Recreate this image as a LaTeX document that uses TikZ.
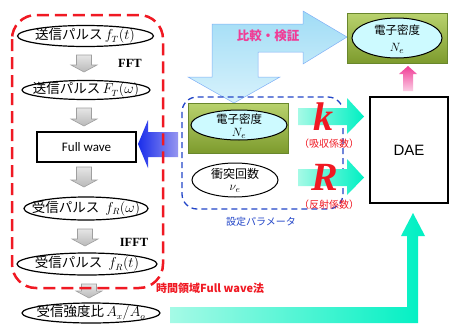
\documentclass[tikz,border=0pt]{standalone}
\usepackage{fontspec}
\newfontfamily\jp{Noto Sans CJK JP}
\newfontfamily\carl{Carlito}
\newfontfamily\ars{Liberation Sans}
\newfontfamily\tms{Liberation Serif}
\usetikzlibrary{shapes.geometric}
\definecolor{myred}{RGB}{240,25,35}
\definecolor{myblue}{RGB}{35,70,200}
\definecolor{mypink}{RGB}{240,60,150}
\definecolor{cyanS}{RGB}{0,240,195}
\definecolor{cyanL}{RGB}{165,250,230}
\definecolor{skyb}{RGB}{160,220,245}
\definecolor{skyl}{RGB}{215,242,252}
\definecolor{grnT}{RGB}{185,210,110}
\definecolor{grnB}{RGB}{125,155,45}
\definecolor{grnD}{RGB}{105,135,45}
\definecolor{icecyan}{RGB}{205,250,255}
\newcommand\grayarr[3]{%
  \shade[top color=gray!20,bottom color=gray!55,draw=gray!75,line width=0.6pt]
  (#1-7.5,#2) -- (#1+7.5,#2) -- (#1+7.5,#3-7) -- (#1+13,#3-7) -- (#1,#3)
  -- (#1-13,#3-7) -- (#1-7.5,#3-7) -- cycle;}
\tikzset{
  ellb/.style={draw=black,line width=1.2pt},
  txt/.style={inner sep=0pt,font=\jp\fontsize{13.5}{15}\selectfont},
  grnbox/.style={top color=grnT,bottom color=grnB,draw=grnD,line width=0.6pt},
  mth/.style={inner sep=0pt,font=\fontsize{12.5}{13}\selectfont},
  bigl/.style={text=myred,font=\tms\bfseries\itshape\fontsize{40}{40}\selectfont,inner sep=0pt,text depth=0pt},
  redl/.style={text=myred,font=\jp\fontsize{10}{11}\selectfont,inner sep=0pt},
  fftl/.style={font=\tms\bfseries\fontsize{12.5}{13}\selectfont,inner sep=0pt},
}
\begin{document}
\begin{tikzpicture}[x=1pt,y=-1pt]
\useasboundingbox (0,0) rectangle (458,327);
\fill[white] (0,0) rectangle (458,327);

% big L arrow comparison
\shade[top color=skyb,bottom color=skyl,draw=skyb!80!blue,line width=0.5pt]
 (212,24) -- (303,24) -- (303,11) -- (347,37) -- (303,64) -- (303,52) -- (258,52)
 -- (258,77) -- (280,77) -- (234,103) -- (188,77) -- (212,77) -- cycle;
\node[font=\jp\bfseries\fontsize{12.5}{14}\selectfont,text=mypink] (cmp) at (268,36) {比較・検証};

% top right green box
\shade[grnbox] (347,13) rectangle (447,63);
\draw[ellb,fill=icecyan,line width=1pt] (397,38) ellipse [x radius=45, y radius=20];
\node[inner sep=0pt,font=\jp\fontsize{11.5}{13}\selectfont] (ne1) at (397,30) {電子密度};
\node[mth] (ne1b) at (397,48) {$N_e$};

% pink arrow
\shade[top color=mypink,bottom color=mypink!25,draw=none]
 (403,91) -- (403,74) -- (399,74) -- (408,66) -- (417,74) -- (413,74) -- (413,91) -- cycle;

% DAE
\node[draw=black,line width=1.2pt,minimum width=78pt,minimum height=106pt,inner sep=0pt,font=\ars\fontsize{15}{16}\selectfont] (dae) at (409,150) {DAE};

% blue dashed params
\draw[myblue,line width=1.3pt,dash pattern=on 6pt off 4pt,rounded corners=15pt] (182,97) rectangle (343,209);
\node[text=myblue,font=\jp\fontsize{10}{11}\selectfont] (set) at (261,222) {設定パラメータ};

% middle green box
\shade[grnbox] (188,103) rectangle (288,153);
\draw[ellb,fill=icecyan,line width=1pt] (239,125) ellipse [x radius=48, y radius=15];
\node[inner sep=0pt,font=\jp\fontsize{11.5}{13}\selectfont] (ne2) at (239,119) {電子密度};
\node[mth] (ne2b) at (239,133) {$N_e$};

% collision
\draw[ellb,fill=white,line width=1pt] (235,180) ellipse [x radius=43, y radius=17];
\node[inner sep=0pt,font=\jp\fontsize{12}{13}\selectfont] (nu) at (235,174) {衝突回数};
\node[mth] (nub) at (235,189) {$\nu_e$};

% k, R arrows
\shade[left color=cyanL,right color=cyanS]
 (298,108) -- (347,108) -- (347,98) -- (364,116.5) -- (347,134) -- (347,125) -- (298,125) -- cycle;
\shade[left color=cyanL,right color=cyanS]
 (298,169) -- (347,169) -- (347,159) -- (364,177.5) -- (347,195) -- (347,186) -- (298,186) -- cycle;
\node[bigl] (k) at (323,117) {k};
\node[redl] (kl) at (329,144) {（吸収係数）};
\node[bigl] (R) at (325,177) {R};
\node[redl] (Rl) at (329,205) {（反射係数）};

% big cyan L arrow to DAE
\shade[left color=cyanL,right color=cyanS]
 (170,307) -- (407,307) -- (407,236) -- (401,236) -- (413,213) -- (425,236) -- (418,236)
 -- (418,323) -- (170,323) -- cycle;

% blue arrow to full wave
\shade[left color={rgb,255:red,25;green,45;blue,235},right color={rgb,255:red,150;green,150;blue,240}]
 (178,132) -- (148,132) -- (148,120) -- (138,144) -- (148,168) -- (148,157) -- (178,157) -- cycle;

% left column
\node[txt] (e1t) at (85,36) {送信パルス\,$f_T(t)$};
\draw[ellb] (85.5,36) ellipse [x radius=68, y radius=10.5];
\grayarr{84}{55}{72}
\node[fftl] (fft) at (130,63) {FFT};
\node[txt] (e2t) at (86,90) {送信パルス\,$F_T(\omega)$};
\draw[ellb] (86,90) ellipse [x radius=64, y radius=9.5];
\grayarr{84}{108}{126}
\node[draw=black,line width=1.2pt,minimum width=99pt,minimum height=30pt,inner sep=0pt,font=\carl\fontsize{13}{14}\selectfont] (fw) at (86.5,147) {Full wave};
\grayarr{84}{167}{187}
\node[txt] (e3t) at (86,208.5) {受信パルス\ \ $f_R(\omega)$};
\draw[ellb] (86,208.5) ellipse [x radius=62, y radius=11.5];
\grayarr{85}{229}{246}
\node[fftl] (ifft) at (134,242) {IFFT};
\node[txt] (e4t) at (87,264) {受信パルス\ \ $f_R(t)$};
\draw[ellb] (87,264) ellipse [x radius=70, y radius=11];
\grayarr{89}{284}{298}
\node[txt] (e5t) at (91,313) {受信強度比\,$A_x/A_o$};
\draw[ellb] (91,313) ellipse [x radius=69, y radius=10];

% red dashed frame
\draw[myred,line width=2.5pt,dash pattern=on 12pt off 6pt,rounded corners=24pt] (12,15) rectangle (163,288);
\node[anchor=west,text=myred,font=\jp\bfseries\fontsize{11}{12}\selectfont,inner sep=0pt] (tdfw) at (156,288) {時間領域Full wave法};
\end{tikzpicture}
\end{document}
